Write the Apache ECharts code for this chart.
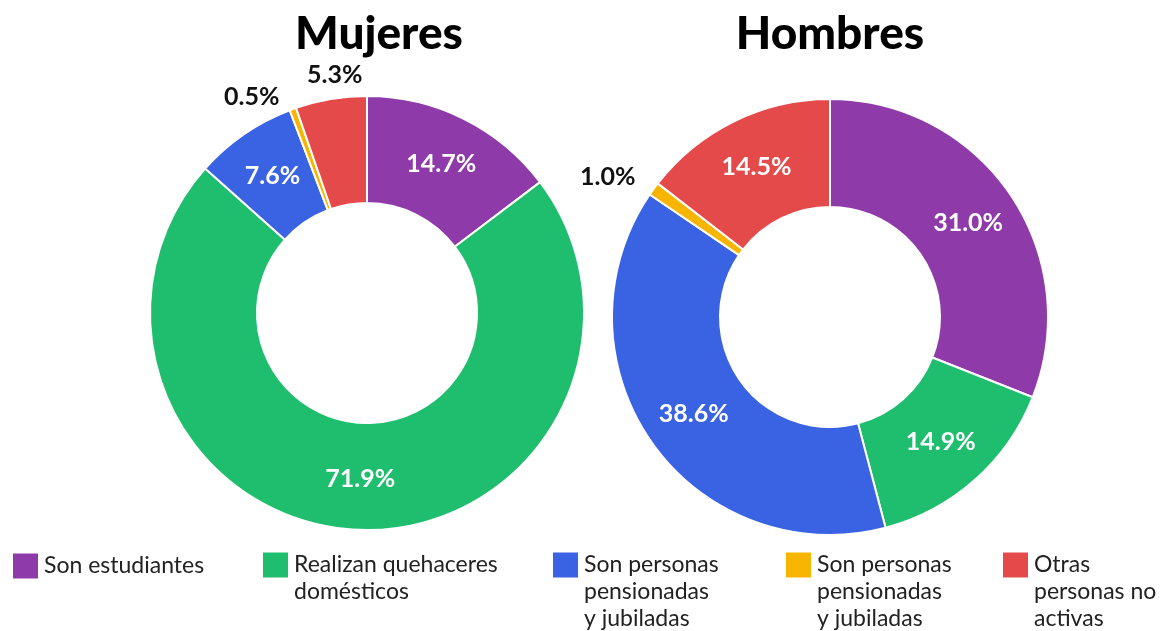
<!DOCTYPE html>
<html>
<head>
<meta charset="utf-8">
<script src="https://cdn.jsdelivr.net/npm/echarts@6/dist/echarts.min.js"></script>
<style>
  html, body { margin: 0; padding: 0; background: #fff; }
  #app { width: 1167px; height: 631px; }
</style>
</head>
<body>
<div id="app"></div>
<script>
// categories as shown in the legend (yellow repeats the blue label in the source)
const categories = [
  'Son estudiantes',
  'Realizan quehaceres\ndomésticos',
  'Son personas\npensionadas\ny jubiladas',
  'Son personas\npensionadas\ny jubiladas',
  'Otras\npersonas no\nactivas'
]
// unique keys so both blue and yellow get their own legend entry
const keys = ['estudiantes', 'quehaceres', 'pensionadas', 'jubiladas', 'otras']
const colors = ['#8e3aa8', '#1fbe6e', '#3a63e4', '#f7b500', '#e54a4a']

const mujeres = [14.7, 71.9, 7.6, 0.5, 5.3]
const hombres = [31.0, 14.9, 38.6, 1.0, 14.5]

const titles = ['Mujeres', 'Hombres']

const echart = echarts.init(document.getElementById('app'))

// small slices get their label outside the ring, in black
const outsideIdx = [[3, 4], [3]]
// nudges for the outside labels (px)
const nudges = [
  { 3: [-5, -3], 4: [38, -14] },
  { 3: [-5, -6] }
]

function buildData (values, s) {
  return values.map((v, i) => {
    const item = {
      name: keys[i],
      value: v,
      itemStyle: { color: colors[i] }
    }
    if (outsideIdx[s].includes(i)) {
      item.label = { position: 'outside', color: '#111' }
      item.labelLine = { show: false, length: 10, length2: 0 }
    }
    return item
  })
}

function pieSeries (values, s, center, radius) {
  return {
    type: 'pie',
    name: titles[s],
    center: center,
    radius: radius,
    startAngle: 90,
    clockwise: true,
    avoidLabelOverlap: false,
    data: buildData(values, s),
    itemStyle: {
      borderColor: '#fff',
      borderWidth: 2
    },
    emphasis: {
      scale: false
    },
    label: {
      show: true,
      position: 'inside',
      color: '#fff',
      fontFamily: 'Lato',
      fontWeight: 'bold',
      fontSize: 25,
      formatter (arg) {
        return arg.value.toFixed(1) + '%'
      }
    },
    labelLayout (params) {
      const n = nudges[s][params.dataIndex]
      if (!n) return {}
      return { dx: n[0], dy: n[1] }
    }
  }
}

// legend: one component per entry so the source spacing can be kept.
// leading blank lines keep the first text line level with the square
const legendLeft = [11, 261, 551, 784, 1001]
const lineH = 27
const iconMid = 565
const legends = keys.map((k, i) => {
  const lines = categories[i].split('\n').length
  const total = 2 * lines - 1
  return {
    data: [k],
    left: legendLeft[i],
    top: iconMid - total * lineH / 2,
    padding: 0,
    icon: 'rect',
    itemWidth: 27,
    itemHeight: 27,
    selectedMode: false,
    formatter (name) {
      const txt = categories[keys.indexOf(name)]
      return '\n'.repeat(lines - 1) + txt
    },
    textStyle: {
      fontFamily: 'Lato',
      fontSize: 23,
      color: '#222',
      lineHeight: lineH
    }
  }
})

const titleStyle = { fontFamily: 'Lato', fontWeight: 900, fontSize: 46, color: '#000' }

echart.setOption({
  backgroundColor: '#fff',
  animation: false,
  title: [
    {
      text: titles[0],
      left: 379,
      top: 34,
      padding: 0,
      textAlign: 'center',
      textVerticalAlign: 'middle',
      textStyle: titleStyle
    },
    {
      text: titles[1],
      left: 830,
      top: 34,
      padding: 0,
      textAlign: 'center',
      textVerticalAlign: 'middle',
      textStyle: titleStyle
    }
  ],
  legend: legends,
  series: [
    pieSeries(mujeres, 0, [367, 313], [110, 217]),
    pieSeries(hombres, 1, [830, 317], [110, 218])
  ]
})
</script>
</body>
</html>
